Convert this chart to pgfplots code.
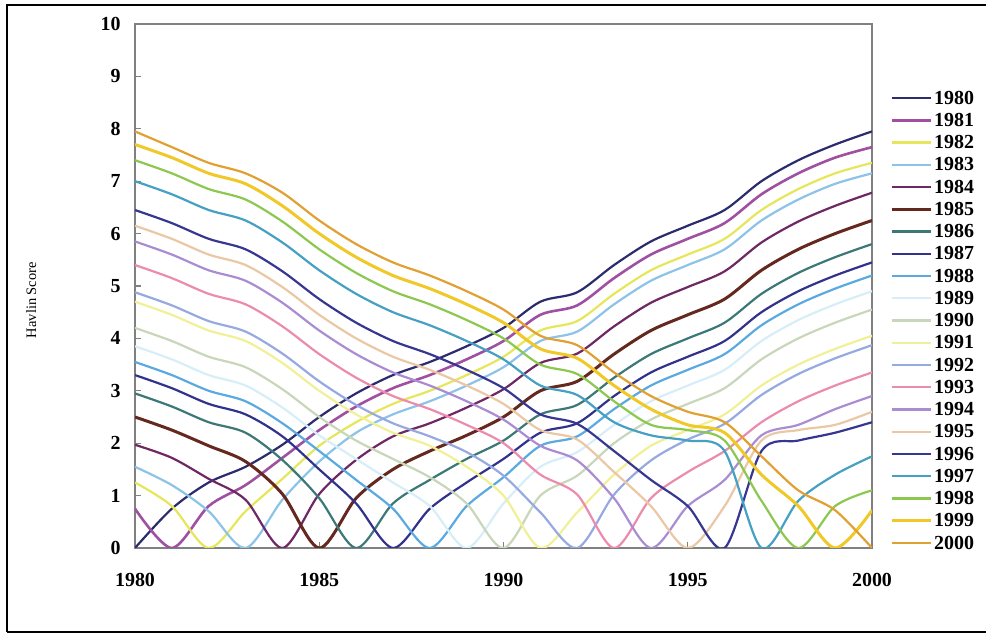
\documentclass[border=0pt]{standalone}
\usepackage{pgfplots}
\usepackage{pgfplotstable}
\pgfplotsset{compat=1.18}
\usepackage{fontspec}
\setmainfont{Liberation Serif}
\definecolor{c1980}{HTML}{2B2B6E}
\definecolor{c1981}{HTML}{A050A0}
\definecolor{c1982}{HTML}{E6E65A}
\definecolor{c1983}{HTML}{8CC3E6}
\definecolor{c1984}{HTML}{6E2864}
\definecolor{c1985}{HTML}{64281E}
\definecolor{c1986}{HTML}{3C7878}
\definecolor{c1987}{HTML}{32328C}
\definecolor{c1988}{HTML}{5AAAE1}
\definecolor{c1989}{HTML}{D7EEF8}
\definecolor{c1990}{HTML}{C8D7B9}
\definecolor{c1991}{HTML}{F0F096}
\definecolor{c1992}{HTML}{96AAE1}
\definecolor{c1993}{HTML}{EB8CAF}
\definecolor{c1994}{HTML}{AA8CD2}
\definecolor{c1995}{HTML}{EBC8A5}
\definecolor{c1996}{HTML}{373791}
\definecolor{c1997}{HTML}{46A0C3}
\definecolor{c1998}{HTML}{8CC850}
\definecolor{c1999}{HTML}{F0C828}
\definecolor{c2000}{HTML}{E1A032}
\pgfplotstableread{
x s1980 s1981 s1982 s1983 s1984 s1985 s1986 s1987 s1988 s1989 s1990 s1991 s1992 s1993 s1994 s1995 s1996 s1997 s1998 s1999 s2000
1980 0 0.75 1.25 1.55 1.97 2.50 2.95 3.30 3.55 3.85 4.20 4.70 4.88 5.40 5.85 6.15 6.45 7.00 7.40 7.70 7.95
1981 0.75 0 0.80 1.20 1.72 2.25 2.70 3.05 3.30 3.60 3.95 4.45 4.63 5.15 5.60 5.90 6.20 6.75 7.15 7.45 7.65
1982 1.25 0.80 0 0.70 1.32 1.95 2.40 2.75 3.00 3.30 3.65 4.15 4.33 4.85 5.30 5.60 5.90 6.45 6.85 7.15 7.35
1983 1.55 1.20 0.70 0 0.92 1.65 2.20 2.55 2.80 3.10 3.45 3.95 4.13 4.65 5.10 5.40 5.70 6.25 6.65 6.95 7.15
1984 1.97 1.72 1.32 0.92 0 1.03 1.68 2.13 2.38 2.68 3.03 3.53 3.71 4.23 4.68 4.98 5.28 5.83 6.23 6.53 6.78
1985 2.50 2.25 1.95 1.65 1.03 0 0.95 1.50 1.85 2.15 2.50 3.00 3.18 3.70 4.15 4.45 4.75 5.30 5.70 6.00 6.25
1986 2.95 2.70 2.40 2.20 1.68 0.95 0 0.85 1.30 1.70 2.05 2.55 2.73 3.25 3.70 4.00 4.30 4.85 5.25 5.55 5.80
1987 3.30 3.05 2.75 2.55 2.13 1.50 0.85 0 0.75 1.25 1.70 2.20 2.38 2.90 3.35 3.65 3.95 4.50 4.90 5.20 5.45
1988 3.55 3.30 3.00 2.80 2.38 1.85 1.30 0.75 0 0.80 1.35 1.95 2.13 2.65 3.10 3.40 3.70 4.25 4.65 4.95 5.20
1989 3.85 3.60 3.30 3.10 2.68 2.15 1.70 1.25 0.80 0 0.85 1.55 1.83 2.35 2.80 3.10 3.40 3.95 4.35 4.65 4.90
1990 4.20 3.95 3.65 3.45 3.03 2.50 2.05 1.70 1.35 0.85 0 1.00 1.38 2.00 2.45 2.75 3.05 3.60 4.00 4.30 4.55
1991 4.70 4.45 4.15 3.95 3.53 3.00 2.55 2.20 1.95 1.55 1.00 0 0.68 1.40 1.95 2.25 2.55 3.10 3.50 3.80 4.05
1992 4.88 4.63 4.33 4.13 3.71 3.18 2.73 2.38 2.13 1.83 1.38 0.68 0 1.02 1.67 2.07 2.37 2.92 3.32 3.62 3.87
1993 5.40 5.15 4.85 4.65 4.23 3.70 3.25 2.90 2.65 2.35 2.00 1.40 1.02 0 0.95 1.45 1.85 2.40 2.80 3.10 3.35
1994 5.85 5.60 5.30 5.10 4.68 4.15 3.70 3.35 3.10 2.80 2.45 1.95 1.67 0.95 0 0.80 1.30 2.15 2.35 2.65 2.90
1995 6.15 5.90 5.60 5.40 4.98 4.45 4.00 3.65 3.40 3.10 2.75 2.25 2.07 1.45 0.80 0 0.80 2.05 2.25 2.35 2.60
1996 6.45 6.20 5.90 5.70 5.28 4.75 4.30 3.95 3.70 3.40 3.05 2.55 2.37 1.85 1.30 0.80 0 1.85 2.05 2.20 2.40
1997 7.00 6.75 6.45 6.25 5.83 5.30 4.85 4.50 4.25 3.95 3.60 3.10 2.92 2.40 2.15 2.05 1.85 0 0.90 1.40 1.75
1998 7.40 7.15 6.85 6.65 6.23 5.70 5.25 4.90 4.65 4.35 4.00 3.50 3.32 2.80 2.35 2.25 2.05 0.90 0 0.80 1.10
1999 7.70 7.45 7.15 6.95 6.53 6.00 5.55 5.20 4.95 4.65 4.30 3.80 3.62 3.10 2.65 2.35 2.20 1.40 0.80 0 0.72
2000 7.95 7.65 7.35 7.15 6.78 6.25 5.80 5.45 5.20 4.90 4.55 4.05 3.87 3.35 2.90 2.60 2.40 1.75 1.10 0.72 0
}\havlin
\pgfplotsset{sty1985/.style={line width=3bp}, sty1999/.style={line width=3bp}, sty1981/.style={line width=2.6bp}}
\begin{document}
\begin{tikzpicture}[x=1bp,y=1bp]
\useasboundingbox (0,0) rectangle (986,635);
\draw[line width=2bp] (7,3) -- (7,630) -- (990,630);
\draw[line width=2bp] (7,3) -- (990,3);
\begin{axis}[
  at={(135bp,87bp)}, anchor=south west,
  scale only axis, width=737bp, height=524bp,
  xmin=1980, xmax=2000, ymin=0, ymax=10,
  xtick={1980,1985,...,2000}, ytick={0,1,...,10},
  xtick pos=bottom, ytick pos=left,
  tick align=inside, major tick length=6bp,
  tick style={draw=gray, line width=1.2bp},
  axis line style={draw=gray, line width=1.8bp},
  /pgf/number format/assume math mode=true,
  /pgf/number format/1000 sep={},
  ticklabel style={font=\bfseries\fontsize{20}{20}\selectfont},
  xticklabel style={yshift=-22bp},
  yticklabel style={xshift=-11bp},
  ylabel={Havlin Score},
  ylabel style={font=\fontsize{14.5}{14.5}\selectfont, at={(axis description cs:-0.141,0.473)}, anchor=center},
  legend style={at={(axis description cs:1.0244,0.8744)}, anchor=north west,
    draw=none, fill=none, inner sep=0pt, row sep=8.25bp,
    font=\bfseries\fontsize{20}{20}\selectfont,
    nodes={inner xsep=2bp, inner ysep=0pt, text height=14bp, text depth=0bp},
    /tikz/every even column/.append style={column sep=0pt}},
  legend cell align=left,
  legend image code/.code={\draw[#1] (0bp,-1bp) -- (39bp,-1bp);},
  every axis plot/.append style={line width=2.2bp, no markers, smooth, tension=0.5},
]
\pgfplotsinvokeforeach{1980,1981,1982,1983,1984,1985,1986,1987,1988,1989,1990,1991,1992,1993,1994,1995,1996,1997,1998,1999,2000}{
  \addplot[color=c#1, sty#1/.try] table[x=x, y=s#1] {\havlin};
  \addlegendentry{#1}
}
\end{axis}
\end{tikzpicture}
\end{document}
